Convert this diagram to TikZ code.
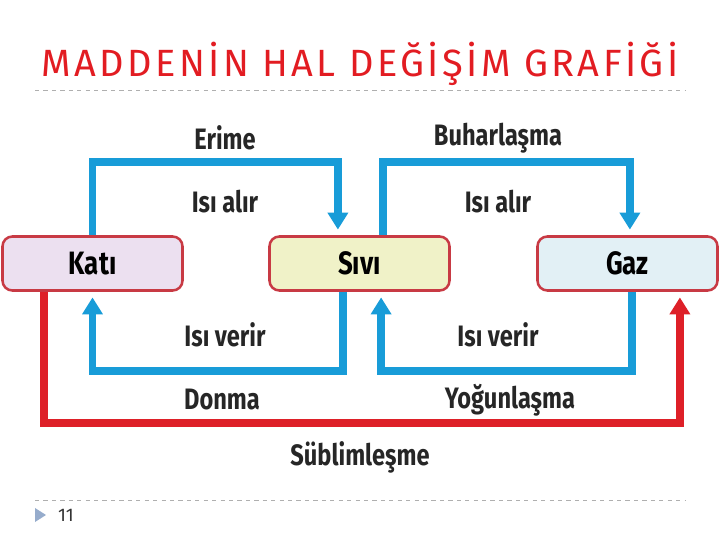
\documentclass[tikz,border=0pt]{standalone}
\usepackage{fontspec}
\setmainfont{Fira Sans}
\newfontfamily\lblfont[FakeStretch=0.8]{Fira Sans}
\newfontfamily\titlefont[LetterSpace=9]{Fira Sans}
\usetikzlibrary{arrows.meta}
\definecolor{titlered}{RGB}{226,28,34}
\definecolor{hblue}{RGB}{24,156,216}
\definecolor{hred}{RGB}{222,32,40}
\definecolor{boxedge}{RGB}{200,58,68}
\definecolor{katifill}{RGB}{236,224,240}
\definecolor{sivifill}{RGB}{240,242,200}
\definecolor{gazfill}{RGB}{226,240,245}
\definecolor{rulegray}{RGB}{175,175,175}
\definecolor{markblue}{RGB}{150,172,204}

\begin{document}
\begin{tikzpicture}[
  state/.style={draw=boxedge,line width=1.8pt,rounded corners=7pt,minimum width=4.5cm,minimum height=1.35cm,font=\lblfont\bfseries\fontsize{23}{25}\selectfont},
  lbl/.style={font=\lblfont\bfseries\fontsize{21}{23}\selectfont,text=black!85},
  heat/.style={line width=5.6pt,-{Triangle[width=14pt,length=12pt]},shorten >=4pt},
  rule/.style={draw=rulegray,dashed,line width=0.6pt}
]
\useasboundingbox (0,0) rectangle (18,13.5);

% title and rules
\node[text=titlered,font=\titlefont\fontsize{27}{30}\selectfont] (title) at (9,11.9) {MADDENİN HAL DEĞİŞİM GRAFİĞİ};
\draw[rule] (0.875,11.25) -- (17.125,11.25);
\draw[rule] (0.875,1.0) -- (17.125,1.0);
\fill[markblue] (0.875,0.8) -- (0.875,0.45) -- (1.15,0.625) -- cycle;
\node[text=black!80,font=\fontsize{13}{15}\selectfont] (pagenum) at (1.65,0.625) {11};

% states
\node[state,fill=katifill] (kati) at (2.3125,6.9125) {Katı};
\node[state,fill=sivifill] (sivi) at (8.9875,6.9125) {Sıvı};
\node[state,fill=gazfill] (gaz) at (15.6875,6.9125) {Gaz};

% heat taken
\draw[heat,hblue] (kati.north) -- ++(0,1.825) -| ([xshift=-0.54cm]sivi.north);
\draw[heat,hblue] ([xshift=0.59cm]sivi.north) -- ++(0,1.825) -| ([xshift=0.06cm]gaz.north);
% heat given
\draw[heat,hblue] ([xshift=-0.41cm]sivi.south) -- ++(0,-1.975) -| (kati.south);
\draw[heat,hblue] ([xshift=0.11cm]gaz.south) -- ++(0,-1.975) -| ([xshift=0.54cm]sivi.south);
% sublimation
\draw[heat,hred] ([xshift=-1.21cm]kati.south) -- ++(0,-3.275) -| ([xshift=1.31cm]gaz.south);

% labels
\node[lbl] (erime) at (5.625,10.05) {Erime};
\node[lbl] (alir1) at (5.625,8.45) {Isı alır};
\node[lbl] (buhar) at (12.45,10.05) {Buharlaşma};
\node[lbl] (alir2) at (12.45,8.45) {Isı alır};
\node[lbl] (verir1) at (5.625,5.125) {Isı verir};
\node[lbl] (donma) at (5.55,3.5) {Donma};
\node[lbl] (verir2) at (12.45,5.125) {Isı verir};
\node[lbl] (yogun) at (12.75,3.5) {Yoğunlaşma};
\node[lbl] (sublim) at (9,2.075) {Süblimleşme};
\end{tikzpicture}
\end{document}
